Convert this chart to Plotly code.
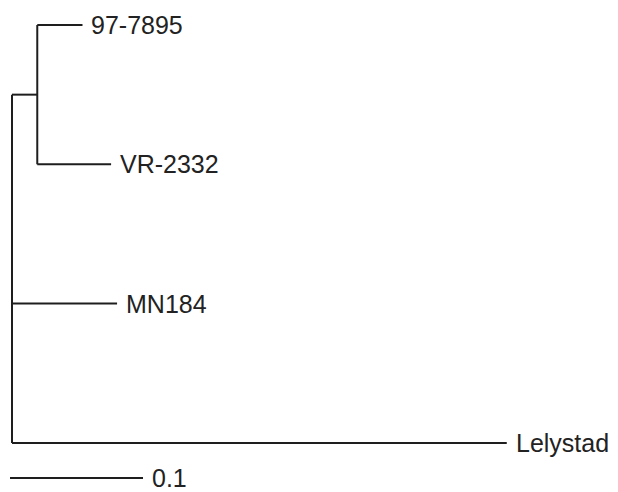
import plotly.graph_objects as go

# Tree data (branch lengths in substitutions/site)
taxa = ["97-7895", "VR-2332", "MN184", "Lelystad"]
tip_branch = [0.034, 0.0555, 0.079, 0.372]   # length of each tip branch from its parent
tip_parent = ["clade", "clade", "root", "root"]
clade_branch = 0.019                          # root -> (97-7895, VR-2332) clade
scale_len = 0.1
scale_label = "0.1"

# Layout mapping: pixels (figure is offset by the 8px page margin)
W, H = 618, 492
page_off = 8
x0_px, px_per_unit = 12 - page_off, 1330
y0_px, y_step_px = 25 - page_off, 139.3

xr = [(0 - x0_px) / px_per_unit, (W - x0_px) / px_per_unit]
yr = [(H - y0_px) / y_step_px, (0 - y0_px) / y_step_px]

ypos = {t: i for i, t in enumerate(taxa)}
node_x = {"root": 0.0, "clade": clade_branch}
node_y = {"clade": (ypos["97-7895"] + ypos["VR-2332"]) / 2}

xs, ys = [], []
tip_end = {}
for t, b, p in zip(taxa, tip_branch, tip_parent):
    xs += [node_x[p], node_x[p] + b, None]
    ys += [ypos[t], ypos[t], None]
    tip_end[t] = node_x[p] + b
xs += [node_x["clade"], node_x["clade"], None]
ys += [ypos["97-7895"], ypos["VR-2332"], None]
xs += [0, node_x["clade"], None]
ys += [node_y["clade"], node_y["clade"], None]
xs += [0, 0, None]
ys += [node_y["clade"], ypos["Lelystad"], None]

line_col = "#1e1e1e"
fig = go.Figure()
fig.add_trace(go.Scatter(x=xs, y=ys, mode="lines",
                         line=dict(color=line_col, width=2), hoverinfo="skip"))

scale_y = (478 - 25) / y_step_px
scale_x0 = -0.0015
fig.add_trace(go.Scatter(x=[scale_x0, scale_x0 + scale_len], y=[scale_y, scale_y], mode="lines",
                         line=dict(color=line_col, width=2), hoverinfo="skip"))

font = dict(family="Liberation Sans, Arial, sans-serif", size=25, color="#222222")
for t in taxa:
    fig.add_annotation(x=tip_end[t], y=ypos[t], text=t, showarrow=False,
                       xanchor="left", yanchor="middle", xshift=7, font=font)
fig.add_annotation(x=scale_x0 + scale_len, y=scale_y, text=scale_label, showarrow=False,
                   xanchor="left", yanchor="middle", xshift=7, font=font)

fig.update_layout(
    width=W, height=H, margin=dict(l=0, r=0, t=0, b=0),
    paper_bgcolor="white", plot_bgcolor="white", showlegend=False,
    xaxis=dict(range=xr, visible=False, fixedrange=True),
    yaxis=dict(range=yr, visible=False, fixedrange=True),
)
fig.write_html("out.html")
